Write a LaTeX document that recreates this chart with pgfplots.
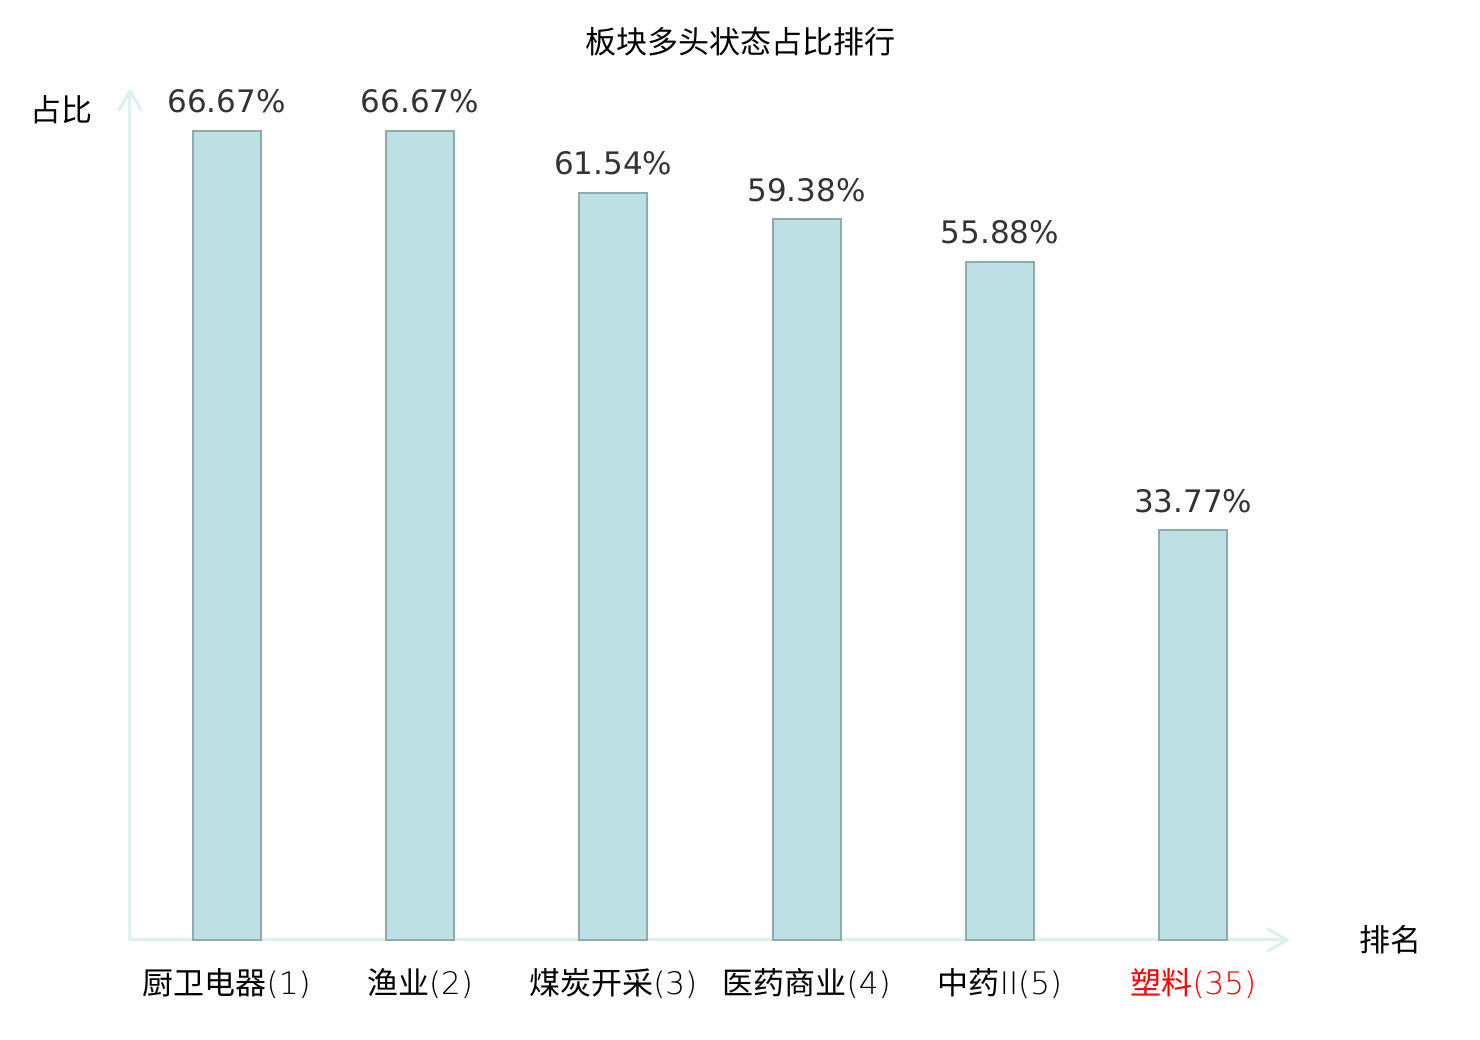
\documentclass[border=0pt]{standalone}
\usepackage{pgfplots}
\pgfplotsset{compat=1.18}
\usetikzlibrary{arrows.meta}
\usepackage{fontspec}
\setmainfont{DejaVu Sans}
\newfontfamily\cjk{Noto Sans CJK SC}
\newfontfamily\light{DejaVu Sans ExtraLight}
\definecolor{barfill}{RGB}{188,224,227}
\definecolor{baredge}{RGB}{142,172,172}
\definecolor{axcol}{RGB}{222,241,239}
\definecolor{valcol}{RGB}{51,51,51}
\begin{document}
\begin{tikzpicture}
\path[use as bounding box] (-65pt,-50pt) rectangle (675pt,470pt);
\begin{axis}[
  at={(0,0)}, anchor=south west,
  scale only axis, width=580pt, height=426pt,
  xmin=-0.5, xmax=5.5, ymin=0, ymax=70.2,
  axis lines=left,
  axis line style={draw=axcol, line width=1.5pt, -{Straight Barb[length=10pt,width=11.5pt]}},
  ytick=\empty,
  xtick={0,1,2,3,4,5},
  major tick length=0pt,
  /pgf/number format/assume math mode=true,
  xticklabels={{\cjk 厨卫电器}{\light(1)},{\cjk 渔业}{\light(2)},{\cjk 煤炭开采}{\light(3)},{\cjk 医药商业}{\light(4)},{\cjk 中药}{\light II(5)},{\color{red}{\cjk 塑料}{\light(35)}}},
  xticklabel style={font=\fontsize{15.5pt}{18pt}\selectfont, yshift=-10.5pt},
  clip=false,
  nodes near coords={\pgfmathprintnumber[fixed,precision=2,fixed zerofill]{\pgfplotspointmeta}\%},
  nodes near coords style={font=\fontsize{15.5pt}{18pt}\selectfont, text=valcol, yshift=5pt},
]
\addplot[ybar, bar width=34pt, fill=barfill, draw=baredge, line width=1pt]
  coordinates {(0,66.67) (1,66.67) (2,61.54) (3,59.38) (4,55.88) (5,33.77)};
\end{axis}
\node[font=\cjk\fontsize{15.5pt}{18pt}\selectfont] at (305pt,449pt) {板块多头状态占比排行};
\node[font=\cjk\fontsize{15.5pt}{18pt}\selectfont] at (-34pt,415pt) {占比};
\node[font=\cjk\fontsize{15.5pt}{18pt}\selectfont] at (630pt,0pt) {排名};
\end{tikzpicture}
\end{document}
